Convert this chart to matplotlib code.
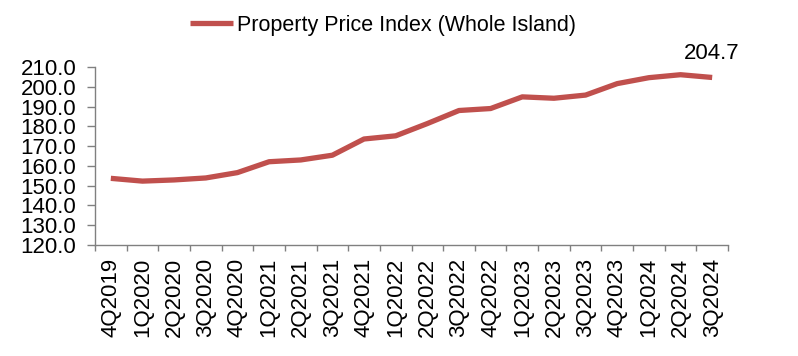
import matplotlib.pyplot as plt

plt.rcParams['font.family'] = ['Liberation Sans', 'DejaVu Sans']

quarters = ['4Q2019', '1Q2020', '2Q2020', '3Q2020', '4Q2020',
            '1Q2021', '2Q2021', '3Q2021', '4Q2021', '1Q2022',
            '2Q2022', '3Q2022', '4Q2022', '1Q2023', '2Q2023',
            '3Q2023', '4Q2023', '1Q2024', '2Q2024', '3Q2024']
ppi = [153.7, 152.3, 152.9, 153.9, 156.6,
       162.1, 163.0, 165.4, 173.6, 175.2,
       181.4, 188.0, 189.0, 194.9, 194.2,
       195.8, 201.6, 204.6, 206.1, 204.7]
yticks = [120, 130, 140, 150, 160, 170, 180, 190, 200, 210]

fs = 16
fig = plt.figure(figsize=(7.98, 3.56), dpi=100)
ax = fig.add_axes([95/798, 1-245/356, 633/798, 178/356])

x = list(range(len(quarters)))
ax.plot(x, ppi, color='#C0504D', lw=3.8, solid_capstyle='butt',
        label='Property Price Index (Whole Island)')

ax.set_xlim(-0.5, len(quarters) - 0.5)
ax.set_ylim(120, 210)
ax.set_yticks(yticks)
ax.set_yticklabels([f'{v:.1f}' for v in yticks], fontsize=fs)
ax.set_xticks(x)
ax.set_xticklabels(quarters, rotation=90, fontsize=fs)
ax.set_xticks([i - 0.5 for i in range(len(quarters) + 1)], minor=True)
ax.tick_params(axis='x', which='major', length=0, pad=9)
ax.tick_params(axis='x', which='minor', length=4, color='#808080', width=1)
ax.tick_params(axis='y', length=6, color='#808080', width=1, pad=7.5)

for s in ['top', 'right']:
    ax.spines[s].set_visible(False)
for s in ['left', 'bottom']:
    ax.spines[s].set_color('#808080')
    ax.spines[s].set_linewidth(1)

ax.annotate(f'{ppi[-1]:.1f}', (x[-1], ppi[-1]), xytext=(0, 10),
            textcoords='offset points', ha='center', va='bottom', fontsize=fs)

fig.legend(loc='center', bbox_to_anchor=(383/798, 1-25/356), frameon=False,
           fontsize=15.5, handlelength=2.0, handletextpad=0.2)

fig.savefig('out.png', dpi=100)
